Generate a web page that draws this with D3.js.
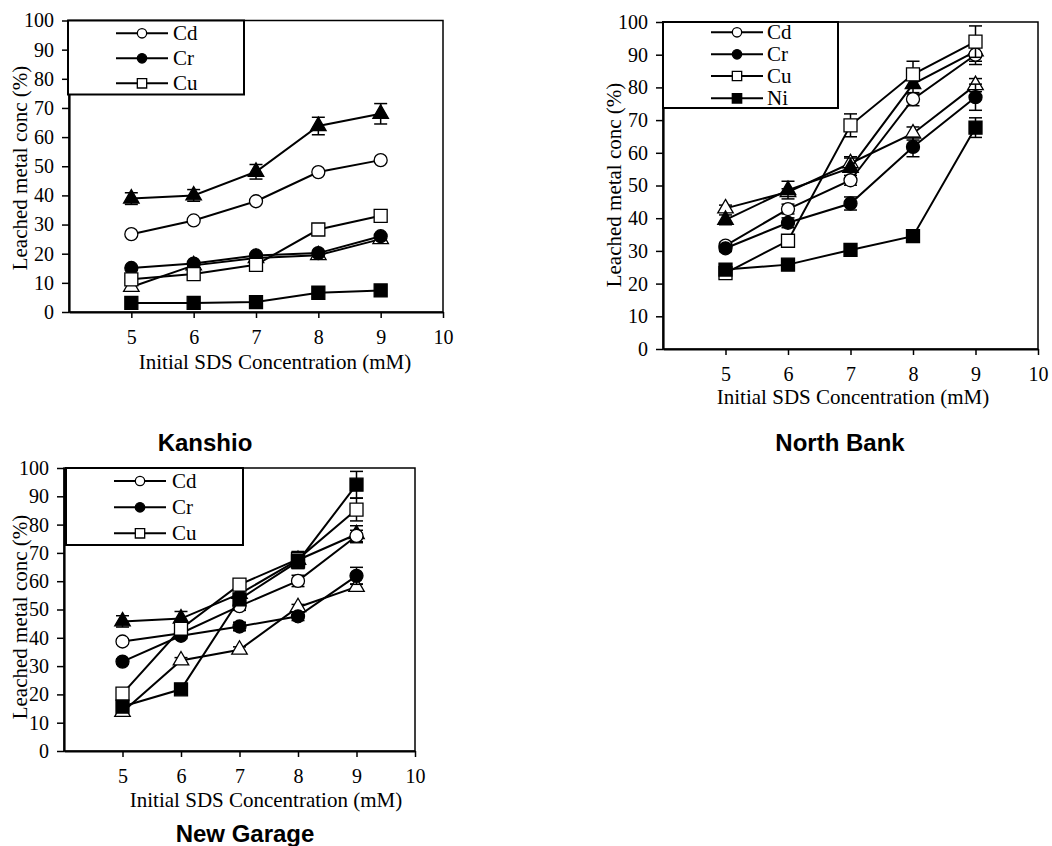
<!DOCTYPE html>
<html>
<head>
<meta charset="utf-8">
<script src="https://cdn.jsdelivr.net/npm/d3@7"></script>
<style>
  html, body { margin: 0; padding: 0; background: #fff; }
  svg { display: block; }
</style>
</head>
<body>
<svg id="chart" width="1052" height="846"></svg>
<script>
// SDS concentrations (mM) at which leaching was measured
const sds = [5, 6, 7, 8, 9];
const xTickValues = [5, 6, 7, 8, 9, 10];
const yTickValues = [0, 10, 20, 30, 40, 50, 60, 70, 80, 90, 100];

// Kanshio — leached metal (%)
const kanshioCd = [26.7, 31.4, 38.0, 48.0, 52.1];
const kanshioCr = [15.1, 16.6, 19.4, 20.2, 26.0];
const kanshioCu = [11.2, 13.0, 16.2, 28.3, 33.0];
const kanshioNi = [3.1, 3.1, 3.4, 6.6, 7.4];
const kanshioPb = [38.9, 40.0, 48.1, 63.8, 68.0];
const kanshioZn = [8.6, 16.0, 18.5, 19.5, 25.0];
// Kanshio — error (±)
const kanshioCdErr = [0, 0, 0, 0, 0];
const kanshioCrErr = [0, 0, 0, 0, 0];
const kanshioCuErr = [1.2, 1.2, 1.2, 1.8, 1.8];
const kanshioNiErr = [0, 0, 0, 0, 0];
const kanshioPbErr = [2, 2, 2.5, 3, 3.5];
const kanshioZnErr = [0, 0, 0, 0, 0];

// North Bank — leached metal (%)
const northCd = [31.6, 42.8, 51.6, 76.4, 90.0];
const northCr = [30.8, 38.6, 44.5, 61.8, 77.0];
const northCu = [23.2, 33.1, 68.4, 84.0, 94.0];
const northNi = [24.3, 25.8, 30.3, 34.5, 67.7];
const northPb = [39.5, 48.6, 55.4, 81.0, 91.0];
const northZn = [43.0, 48.0, 56.8, 65.9, 80.7];
// North Bank — error (±)
const northCdErr = [1, 1.5, 1.5, 2, 3];
const northCrErr = [1, 1.5, 2, 3, 4];
const northCuErr = [1, 1.5, 3.5, 4, 4.8];
const northNiErr = [1, 1, 1, 1, 3];
const northPbErr = [1.5, 2.7, 3, 3, 3];
const northZnErr = [1, 1, 2, 2, 2];

// New Garage — leached metal (%)
const garageCd = [38.7, 41.6, 51.2, 60.1, 76.0];
const garageCr = [31.6, 40.7, 44.0, 47.6, 61.9];
const garageCu = [20.3, 43.2, 58.8, 67.8, 85.3];
const garageNi = [15.7, 21.8, 53.6, 67.0, 94.1];
const garagePb = [45.8, 46.8, 55.5, 67.5, 76.6];
const garageZn = [13.8, 32.0, 35.8, 50.8, 58.0];
// New Garage — error (±)
const garageCdErr = [1, 1, 1.5, 2, 2];
const garageCrErr = [1, 1, 1.5, 1.5, 3];
const garageCuErr = [1.5, 2, 2, 2.5, 4];
const garageNiErr = [1, 1, 2, 2.5, 4.7];
const garagePbErr = [2, 2.5, 2.5, 3, 3];
const garageZnErr = [1, 1, 1, 1, 1];

// marker style per metal
const markerStyle = {
  Cd: { shape: "circle", filled: false },
  Cr: { shape: "circle", filled: true },
  Cu: { shape: "square", filled: false },
  Ni: { shape: "square", filled: true },
  Pb: { shape: "triangle", filled: true },
  Zn: { shape: "triangle", filled: false }
};

const panels = [
  {
    name: "Kanshio",
    series: [
      { metal: "Zn", values: kanshioZn, err: kanshioZnErr },
      { metal: "Pb", values: kanshioPb, err: kanshioPbErr },
      { metal: "Cd", values: kanshioCd, err: kanshioCdErr },
      { metal: "Cr", values: kanshioCr, err: kanshioCrErr },
      { metal: "Cu", values: kanshioCu, err: kanshioCuErr },
      { metal: "Ni", values: kanshioNi, err: kanshioNiErr }
    ],
    legendItems: ["Cd", "Cr", "Cu"],
    box: { left: 69, right: 443, top: 20.5, bottom: 312 },
    xTitleAt: [275, 369], yTitleAt: [27, 168],
    legend: { x: 68, y: 20.5, w: 176, h: 74, rowY: [33.3, 58.3, 83.3], lineX: [116, 168], textX: 173 },
    nameAt: [205, 451]
  },
  {
    name: "North Bank",
    series: [
      { metal: "Zn", values: northZn, err: northZnErr },
      { metal: "Pb", values: northPb, err: northPbErr },
      { metal: "Cd", values: northCd, err: northCdErr },
      { metal: "Cr", values: northCr, err: northCrErr },
      { metal: "Cu", values: northCu, err: northCuErr },
      { metal: "Ni", values: northNi, err: northNiErr }
    ],
    legendItems: ["Cd", "Cr", "Cu", "Ni"],
    box: { left: 663, right: 1038, top: 22, bottom: 349 },
    xTitleAt: [853, 404], yTitleAt: [621, 185],
    legend: { x: 663, y: 22, w: 175, h: 86, rowY: [32.3, 54.3, 76, 98.3], lineX: [711, 763], textX: 767 },
    nameAt: [840, 451]
  },
  {
    name: "New Garage",
    series: [
      { metal: "Zn", values: garageZn, err: garageZnErr },
      { metal: "Pb", values: garagePb, err: garagePbErr },
      { metal: "Cd", values: garageCd, err: garageCdErr },
      { metal: "Cr", values: garageCr, err: garageCrErr },
      { metal: "Cu", values: garageCu, err: garageCuErr },
      { metal: "Ni", values: garageNi, err: garageNiErr }
    ],
    legendItems: ["Cd", "Cr", "Cu"],
    box: { left: 64, right: 415, top: 468, bottom: 751 },
    xTitleAt: [266, 807], yTitleAt: [27, 617],
    legend: { x: 66, y: 468, w: 177, h: 77, rowY: [481, 507.3, 533.3], lineX: [114, 166], textX: 172 },
    nameAt: [245, 842]
  }
];

const svg = d3.select("#chart");
const serif = '"Liberation Serif", "Times New Roman", serif';

function symbolFor(metal, scale) {
  const st = markerStyle[metal];
  const type = st.shape === "circle" ? d3.symbolCircle
             : st.shape === "square" ? d3.symbolSquare
             : d3.symbolTriangle;
  const area = st.shape === "circle" ? Math.PI * 6.5 * 6.5
             : st.shape === "square" ? 13 * 13
             : Math.sqrt(3) / 4 * 15.5 * 15.5;
  return d3.symbol().type(type).size(area * scale * scale)();
}

function drawMarker(g, metal, x, y, scale) {
  const st = markerStyle[metal];
  g.append("path")
    .attr("d", symbolFor(metal, scale))
    .attr("transform", `translate(${x},${y})`)
    .attr("fill", st.filled ? "#000" : "#fff")
    .attr("stroke", "#000")
    .attr("stroke-width", 1.3);
}

panels.forEach(p => {
  const g = svg.append("g");
  const x = d3.scaleLinear().domain([4, 10]).range([p.box.left, p.box.right]);
  const y = d3.scaleLinear().domain([0, 100]).range([p.box.bottom, p.box.top]);

  // plot frame (top and right edges)
  g.append("rect")
    .attr("x", p.box.left).attr("y", p.box.top)
    .attr("width", p.box.right - p.box.left)
    .attr("height", p.box.bottom - p.box.top)
    .attr("fill", "none").attr("stroke", "#000").attr("stroke-width", 1.5);

  // axes
  const yAxis = g.append("g")
    .attr("transform", `translate(${p.box.left},0)`)
    .call(d3.axisLeft(y).tickValues(yTickValues).tickFormat(d3.format("d"))
      .tickSize(7).tickSizeOuter(0).tickPadding(8));
  const xAxis = g.append("g")
    .attr("transform", `translate(0,${p.box.bottom})`)
    .call(d3.axisBottom(x).tickValues(xTickValues).tickFormat(d3.format("d"))
      .tickSize(6).tickSizeOuter(0).tickPadding(12));
  [yAxis, xAxis].forEach(a => {
    a.attr("font-family", null).attr("font-size", null);
    a.select(".domain").attr("stroke", "#000").attr("stroke-width", 2.2);
    a.selectAll(".tick line").attr("stroke", "#000").attr("stroke-width", 1.5);
    a.selectAll(".tick text")
      .attr("font-family", serif).attr("font-size", 20).attr("fill", "#000");
  });

  // axis titles
  g.append("text")
    .attr("x", p.xTitleAt[0]).attr("y", p.xTitleAt[1])
    .attr("text-anchor", "middle")
    .attr("font-family", serif).attr("font-size", 21)
    .text("Initial SDS Concentration (mM)");
  g.append("text")
    .attr("transform", `translate(${p.yTitleAt[0]},${p.yTitleAt[1]}) rotate(-90)`)
    .attr("text-anchor", "middle")
    .attr("font-family", serif).attr("font-size", 21)
    .text("Leached metal conc (%)");

  // series: line, error bars, markers
  const line = d3.line().x((d, i) => x(sds[i])).y(d => y(d));
  p.series.forEach(s => {
    const sg = g.append("g");
    sg.append("path")
      .attr("d", line(s.values))
      .attr("fill", "none").attr("stroke", "#000").attr("stroke-width", 2);
    s.values.forEach((v, i) => {
      const e = s.err[i];
      if (!e) return;
      const cx = x(sds[i]);
      const y1 = y(v + e), y2 = y(v - e);
      sg.append("line").attr("x1", cx).attr("x2", cx).attr("y1", y1).attr("y2", y2)
        .attr("stroke", "#000").attr("stroke-width", 1.5);
      [y1, y2].forEach(yy => sg.append("line")
        .attr("x1", cx - 6.5).attr("x2", cx + 6.5).attr("y1", yy).attr("y2", yy)
        .attr("stroke", "#000").attr("stroke-width", 1.5));
    });
    s.values.forEach((v, i) => drawMarker(sg, s.metal, x(sds[i]), y(v), 1));
  });

  // legend
  const L = p.legend;
  const lg = g.append("g");
  lg.append("rect")
    .attr("x", L.x).attr("y", L.y).attr("width", L.w).attr("height", L.h)
    .attr("fill", "#fff").attr("stroke", "#000").attr("stroke-width", 2);
  p.legendItems.forEach((m, i) => {
    const ry = L.rowY[i];
    lg.append("line")
      .attr("x1", L.lineX[0]).attr("x2", L.lineX[1]).attr("y1", ry).attr("y2", ry)
      .attr("stroke", "#000").attr("stroke-width", 2);
    drawMarker(lg, m, (L.lineX[0] + L.lineX[1]) / 2, ry, 0.72);
    lg.append("text")
      .attr("x", L.textX).attr("y", ry + 7)
      .attr("font-family", serif).attr("font-size", 21)
      .text(m);
  });

  // site name beneath the chart
  g.append("text")
    .attr("x", p.nameAt[0]).attr("y", p.nameAt[1])
    .attr("text-anchor", "middle")
    .attr("font-family", '"Liberation Sans", Arial, sans-serif')
    .attr("font-weight", "bold").attr("font-size", 24)
    .text(p.name);
});
</script>
</body>
</html>
